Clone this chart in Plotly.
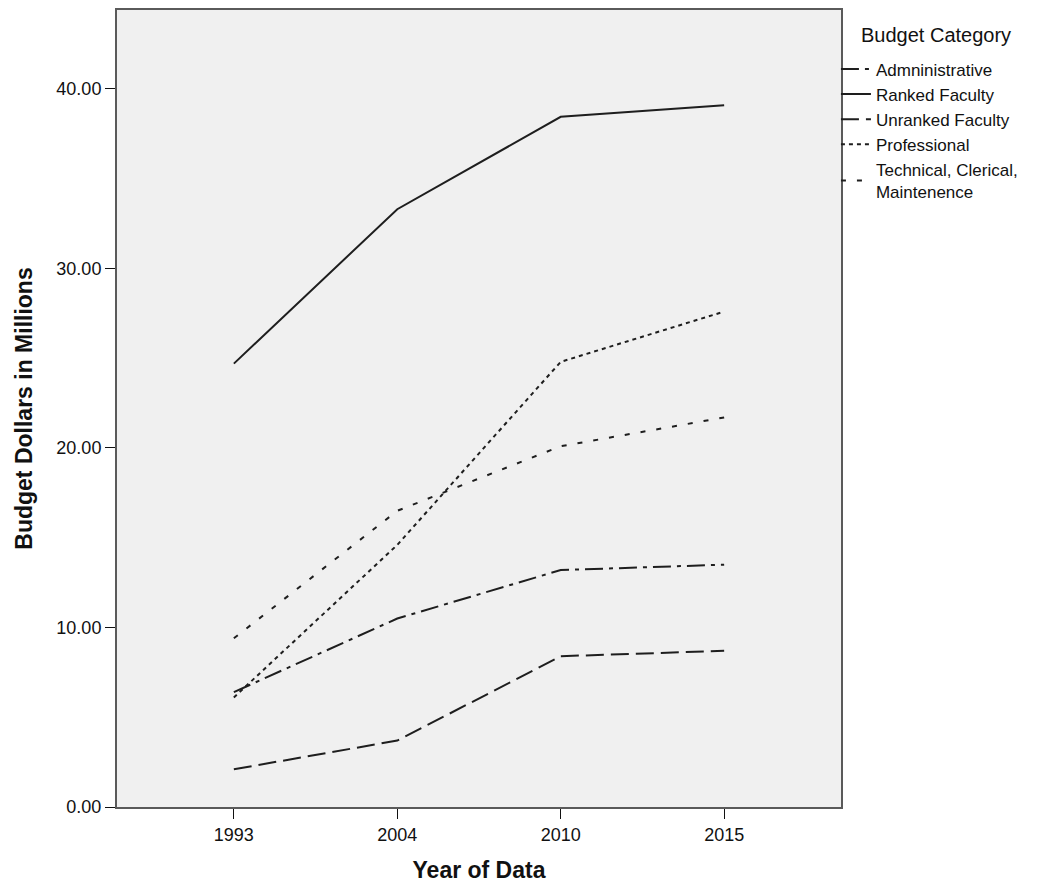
import plotly.graph_objects as go

years = ["1993", "2004", "2010", "2015"]
administrative = [6.4, 10.5, 13.2, 13.5]
ranked_faculty = [24.7, 33.3, 38.45, 39.1]
unranked_faculty = [2.1, 3.7, 8.4, 8.7]
professional = [6.1, 14.6, 24.8, 27.6]
technical = [9.4, 16.5, 20.1, 21.7]

series = [
    ("Admninistrative", administrative, "18px,6px,4px,6px"),
    ("Ranked Faculty", ranked_faculty, "solid"),
    ("Unranked Faculty", unranked_faculty, "18px,7px"),
    ("Professional", professional, "4px,4px"),
    ("Technical, Clerical,<br>Maintenence", technical, "5px,11px"),
]

fig = go.Figure()
for i, (name, vals, dash) in enumerate(series):
    fig.add_trace(go.Scatter(
        x=years, y=vals, mode="lines", name=name,
        legendgroup=f"g{i}",
        line=dict(color="#1e1e1e", width=2, dash=dash),
    ))

# page body has an 8px margin, so the plot area offsets are reduced by 8px
fig.update_layout(
    width=1052, height=894,
    margin=dict(l=109, r=219, t=0, b=95),
    paper_bgcolor="white",
    plot_bgcolor="#f0f0f0",
    font=dict(family="Liberation Sans, Arial", color="#111111", size=18),
    showlegend=True,
    legend=dict(
        x=0.993, xanchor="left", y=0.948, yanchor="top",
        bgcolor="rgba(0,0,0,0)",
        font=dict(size=17),
        tracegroupgap=0,
        itemwidth=30,
    ),
    annotations=[dict(
        text="Budget Category", xref="paper", yref="paper",
        x=1.025, y=0.969, xanchor="left", yanchor="middle",
        showarrow=False, font=dict(size=20),
    )],
    xaxis=dict(
        type="category",
        range=[-0.715, 3.715],
        showline=True, mirror=True, linecolor="#5a5a5a", linewidth=2,
        ticks="outside", ticklen=10, tickcolor="#111111", tickwidth=1,
        showgrid=False, zeroline=False,
        tickfont=dict(size=18),
        title=dict(text="<b>Year of Data</b>", font=dict(size=23), standoff=18),
    ),
    yaxis=dict(
        range=[0, 44.4],
        tickvals=[0, 10, 20, 30, 40],
        tickformat=".2f",
        showline=True, mirror=True, linecolor="#5a5a5a", linewidth=2,
        ticks="outside", ticklen=10, tickcolor="#111111", tickwidth=1,
        showgrid=False, zeroline=False,
        tickfont=dict(size=18),
        title=dict(text="<b>Budget Dollars in Millions</b>", font=dict(size=23), standoff=17),
    ),
)

fig.write_html("out.html")
